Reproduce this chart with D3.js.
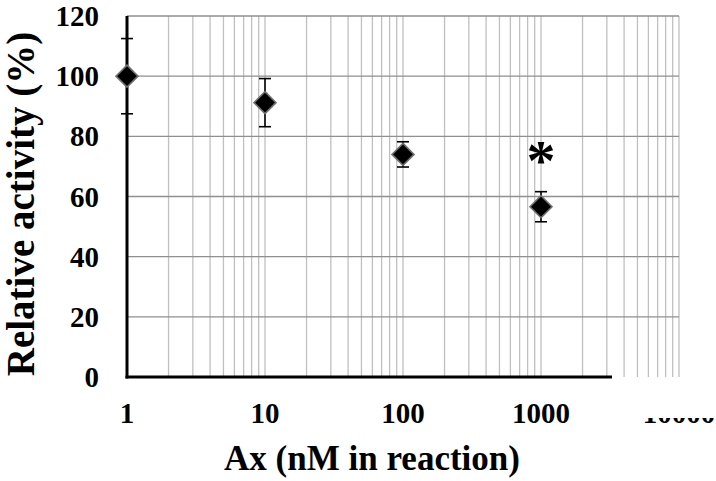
<!DOCTYPE html>
<html><head><meta charset="utf-8">
<script src="https://cdn.jsdelivr.net/npm/d3@7/dist/d3.min.js"></script>
<style>svg text, text { font-family: "Liberation Serif", "Times New Roman", Tinos !important; font-weight: bold !important; }</style>
</head><body style="margin:0">
<script>
const concentrations = [1, 10, 100, 1000];
const activity = [100, 91.2, 74.0, 56.6];
const errors = [12.5, 8.0, 4.2, 5.0];
const xTickValues = [1, 10, 100, 1000, 10000];
const yTickValues = [0, 20, 40, 60, 80, 100, 120];
const annotations = [{x: 1000, y: 77, text: "*"}];

const W = 716, H = 481;
const FF = '"Liberation Serif", "Times New Roman", Tinos';
const svg = d3.select("body").append("svg").attr("width", W).attr("height", H)
  .attr("font-family", FF).style("display", "block");
const x = d3.scaleLog().domain([1, 10000]).range([127, 679]);
const y = d3.scaleLinear().domain([0, 120]).range([377, 16]);
function serif(sel, size) {
  return sel.attr("font-family", FF).attr("font-weight", "bold")
    .style("font-family", FF, "important").style("font-weight", "bold", "important")
    .style("font-size", size + "px");
}

// vertical gridlines (1-9 per decade)
const vLines = [];
for (let k = 0; k < 4; k++) for (let m = 1; m <= 9; m++) vLines.push(m * Math.pow(10, k));
vLines.push(10000);
svg.append("g").selectAll("line").data(vLines.filter(d => d > 1)).join("line")
  .attr("x1", d => x(d)).attr("x2", d => x(d))
  .attr("y1", y(120)).attr("y2", y(0))
  .attr("stroke", "#c0c0c0").attr("stroke-width", 1.3);
// horizontal gridlines
svg.append("g").selectAll("line").data(yTickValues.filter(d => d > 0)).join("line")
  .attr("x1", x(1)).attr("x2", x(10000))
  .attr("y1", d => y(d)).attr("y2", d => y(d))
  .attr("stroke", "#8f8f8f").attr("stroke-width", 1.3);

const pts = concentrations.map((c, i) => ({c, v: activity[i], e: errors[i]}));
// error bars
const eb = svg.append("g").attr("stroke", "#000").attr("stroke-width", 1.6);
pts.forEach(p => {
  eb.append("line").attr("x1", x(p.c)).attr("x2", x(p.c)).attr("y1", y(p.v + p.e)).attr("y2", y(p.v - p.e));
  [p.v + p.e, p.v - p.e].forEach(v => eb.append("line")
    .attr("x1", x(p.c) - 6).attr("x2", x(p.c) + 6).attr("y1", y(v)).attr("y2", y(v)));
});

// axis lines
svg.append("line").attr("x1", x(1)).attr("x2", x(1)).attr("y1", y(120)).attr("y2", y(0) + 1.5)
  .attr("stroke", "#000").attr("stroke-width", 3);
svg.append("line").attr("x1", x(1) - 1.5).attr("x2", 612).attr("y1", y(0)).attr("y2", y(0))
  .attr("stroke", "#000").attr("stroke-width", 3);

// points
const s = 11;
svg.append("g").selectAll("path").data(pts).join("path")
  .attr("d", p => `M${x(p.c)},${y(p.v) - s}L${x(p.c) + s},${y(p.v)}L${x(p.c)},${y(p.v) + s}L${x(p.c) - s},${y(p.v)}Z`)
  .attr("fill", "#000").attr("stroke", "#707070").attr("stroke-width", 1.6);

// y tick labels
serif(svg.append("g").selectAll("text").data(yTickValues).join("text"), 29)
  .attr("x", 99).attr("y", d => y(d)).attr("dy", "0.35em")
  .attr("text-anchor", "end").text(d => d);

// x tick labels
svg.append("defs").append("clipPath").attr("id", "clipLast")
  .append("rect").attr("x", 0).attr("y", 418).attr("width", W).attr("height", 63);
serif(svg.append("g").selectAll("text").data(xTickValues).join("text"), 29)
  .attr("x", d => x(d)).attr("y", 423)
  .attr("text-anchor", "middle")
  .attr("clip-path", d => d === 10000 ? "url(#clipLast)" : null)
  .text(d => d);

// annotation
serif(svg.append("g").selectAll("text").data(annotations).join("text"), 58)
  .attr("x", d => x(d.x)).attr("y", d => y(d.y)).attr("dy", "0.6em")
  .attr("text-anchor", "middle").text(d => d.text);

// axis titles
serif(svg.append("text"), 35).attr("x", 372).attr("y", 470).attr("text-anchor", "middle")
  .text("Ax (nM in reaction)");
serif(svg.append("text"), 39).attr("transform", "translate(34,204) rotate(-90)").attr("text-anchor", "middle")
  .text("Relative activity (%)");
</script>
</body></html>
